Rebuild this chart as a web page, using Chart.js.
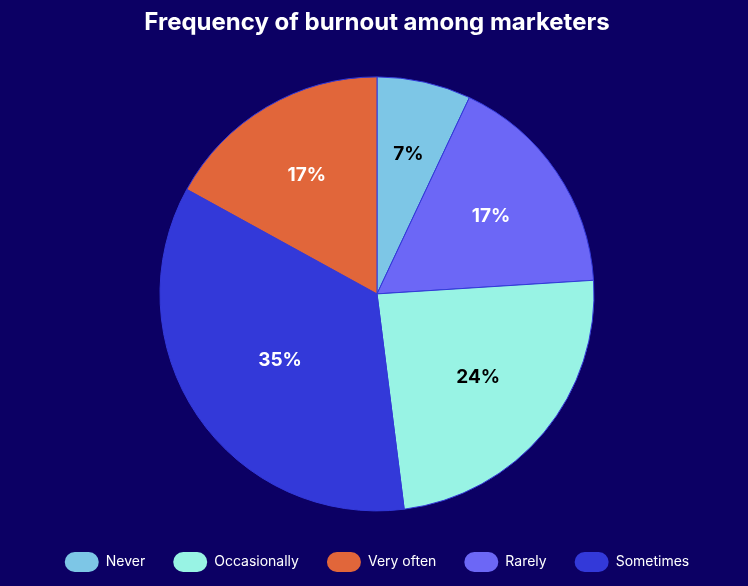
<!DOCTYPE html>
<html lang="en">
<head>
  <meta charset="UTF-8" />
  <title>Frequency of burnout among marketers</title>
  <style>
    html, body {
      margin: 0;
      padding: 0;
      background: #0c0064;
      overflow: hidden;
    }
    #wrap {
      position: relative;
      width: 748px;
      height: 586px;
    }
  </style>
</head>
<body>
  <div id="wrap"><canvas id="burnoutChart"></canvas></div>

  <script src="https://cdn.jsdelivr.net/npm/chart.js"></script>
  <script>
    // data, in slice order (clockwise from 12 o'clock)
    const labels = ['Never', 'Rarely', 'Occasionally', 'Sometimes', 'Very often'];
    const shares = [7, 17, 24, 35, 17];
    const colors = ['#7dc6e6', '#6c67f6', '#98f3e4', '#3339d9', '#e1663a'];
    const labelColors = ['#000000', '#ffffff', '#000000', '#ffffff', '#ffffff'];
    // legend shows the categories in this order
    const legendOrder = ['Never', 'Occasionally', 'Very often', 'Rarely', 'Sometimes'];

    // percentage text at the centroid of each slice
    const sliceLabels = {
      id: 'sliceLabels',
      afterDatasetsDraw(chart) {
        const { ctx } = chart;
        const meta = chart.getDatasetMeta(0);
        ctx.save();
        ctx.font = 'bold 19px Inter, sans-serif';
        ctx.textAlign = 'center';
        ctx.textBaseline = 'middle';
        meta.data.forEach((arc, i) => {
          const { x, y, startAngle, endAngle, outerRadius } = arc.getProps(['x', 'y', 'startAngle', 'endAngle', 'outerRadius'], true);
          const half = (endAngle - startAngle) / 2;
          const mid = startAngle + half;
          const d = (2 * outerRadius * Math.sin(half)) / (3 * half);
          ctx.fillStyle = labelColors[i];
          ctx.fillText(shares[i] + '%', x + Math.cos(mid) * d, y + Math.sin(mid) * d);
        });
        ctx.restore();
      }
    };

    new Chart(document.getElementById('burnoutChart'), {
      type: 'pie',
      data: {
        labels: labels,
        datasets: [{
          data: shares,
          backgroundColor: colors,
          borderColor: '#3339d9',
          borderWidth: 1
        }]
      },
      options: {
        responsive: true,
        maintainAspectRatio: false,
        animation: false,
        radius: 217,
        layout: { padding: { top: 0, bottom: 4, left: 6 } },
        plugins: {
          title: {
            display: true,
            text: 'Frequency of burnout among marketers',
            color: '#ffffff',
            font: { family: 'Inter, sans-serif', size: 24, weight: 'bold' },
            padding: { top: 8, bottom: 27 }
          },
          legend: {
            position: 'bottom',
            labels: {
              color: '#ffffff',
              font: { family: 'Inter, sans-serif', size: 14 },
              boxWidth: 34,
              boxHeight: 20,
              useBorderRadius: true,
              borderRadius: 10,
              padding: 28,
              generateLabels(chart) {
                const items = Chart.overrides.pie.plugins.legend.labels.generateLabels(chart);
                items.forEach(it => { it.strokeStyle = it.fillStyle; it.lineWidth = 0; });
                return items;
              },
              sort: (a, b) => legendOrder.indexOf(a.text) - legendOrder.indexOf(b.text)
            }
          },
          tooltip: { enabled: false }
        }
      },
      plugins: [sliceLabels]
    });
  </script>
</body>
</html>
